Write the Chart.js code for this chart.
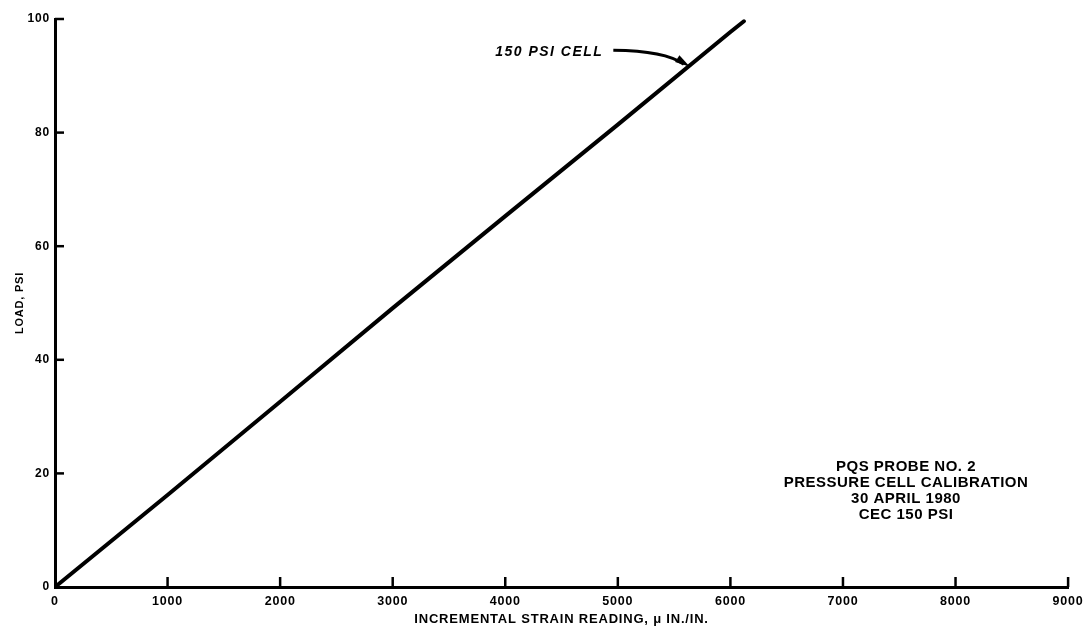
<!DOCTYPE html>
<html>
<head>
<meta charset="utf-8">
<script src="https://cdn.jsdelivr.net/npm/chart.js@4.4.1/dist/chart.umd.min.js"></script>
<style>
  html, body { margin: 0; padding: 0; background: #fff; }
  #wrap { width: 1089px; height: 628px; }
</style>
</head>
<body>
<div id="wrap"><canvas id="calib" width="1089" height="628"></canvas></div>
<script>
// calibration readings
const strainReadings = [0, 1000, 2000, 3000, 4000, 5000, 6000, 6120];
const loadPsi = [0, 16.2, 32.6, 49.1, 65.3, 81.4, 97.7, 99.6];

const xTicks = [0, 1000, 2000, 3000, 4000, 5000, 6000, 7000, 8000, 9000];
const yTicks = [0, 20, 40, 60, 80, 100];

const noteLines = ["PQS PROBE NO. 2", "PRESSURE CELL CALIBRATION", "30 APRIL 1980", "CEC 150 PSI"];
const cellLabel = "150 PSI CELL";

const ink = "#000";
const fontFam = "'Liberation Sans', Arial, sans-serif";

// inward tick marks + annotations
const overlay = {
  id: "overlay",
  beforeDraw(chart) {
    chart.ctx.letterSpacing = "0.8px";
  },
  afterDraw(chart) {
    const ctx = chart.ctx;
    const xs = chart.scales.x, ys = chart.scales.y;
    const area = chart.chartArea;
    ctx.save();
    ctx.strokeStyle = ink;
    ctx.lineWidth = 2.5;
    xTicks.slice(1).forEach(function (v) {
      const px = xs.getPixelForValue(v);
      ctx.beginPath();
      ctx.moveTo(px, area.bottom);
      ctx.lineTo(px, area.bottom - 10);
      ctx.stroke();
    });
    yTicks.slice(1).forEach(function (v) {
      const py = ys.getPixelForValue(v);
      ctx.beginPath();
      ctx.moveTo(area.left, py);
      ctx.lineTo(area.left + 9, py);
      ctx.stroke();
    });

    // cell label with curved arrow to the line
    ctx.fillStyle = ink;
    ctx.font = "italic bold 14px " + fontFam;
    ctx.letterSpacing = "1.5px";
    ctx.textAlign = "left";
    ctx.textBaseline = "middle";
    ctx.fillText(cellLabel, xs.getPixelForValue(3910), ys.getPixelForValue(94.2));

    const sx = xs.getPixelForValue(4960), sy = ys.getPixelForValue(94.5);
    const tx = xs.getPixelForValue(5640), ty = ys.getPixelForValue(91.6);
    const cx = xs.getPixelForValue(5420), cy = ys.getPixelForValue(94.4);
    ctx.lineWidth = 3;
    ctx.beginPath();
    ctx.moveTo(sx, sy);
    ctx.quadraticCurveTo(cx, cy, tx - 6, ty - 2.5);
    ctx.stroke();
    const ang = Math.atan2(ty - cy, tx - cx);
    ctx.beginPath();
    ctx.moveTo(tx, ty);
    ctx.lineTo(tx - 15 * Math.cos(ang) - 4 * Math.sin(ang), ty - 15 * Math.sin(ang) + 4 * Math.cos(ang));
    ctx.lineTo(tx - 15 * Math.cos(ang) + 4 * Math.sin(ang), ty - 15 * Math.sin(ang) - 4 * Math.cos(ang));
    ctx.closePath();
    ctx.fill();

    // note block, lower right
    ctx.font = "bold 15px " + fontFam;
    ctx.letterSpacing = "0.5px";
    ctx.textAlign = "center";
    const nx = xs.getPixelForValue(7560);
    noteLines.forEach(function (t, i) {
      ctx.fillText(t, nx, ys.getPixelForValue(21.2) + i * 16);
    });
    ctx.restore();
  }
};

const ctxCal = document.getElementById("calib").getContext("2d");

new Chart(ctxCal, {
  type: "scatter",
  data: {
    datasets: [{
      data: strainReadings.map(function (s, i) { return { x: s, y: loadPsi[i] }; }),
      showLine: true,
      borderColor: ink,
      borderWidth: 4,
      borderCapStyle: "round",
      borderJoinStyle: "round",
      pointRadius: 0,
      tension: 0
    }]
  },
  options: {
    responsive: false,
    animation: false,
    layout: { padding: { top: 19, right: 16, left: 0, bottom: 0 } },
    plugins: { legend: { display: false }, tooltip: { enabled: false } },
    scales: {
      x: {
        type: "linear",
        min: 0, max: 9000,
        afterBuildTicks: function (s) { s.ticks = xTicks.map(function (v) { return { value: v }; }); },
        afterFit: function (s) { s.height = 41; },
        grid: { drawOnChartArea: false, drawTicks: false },
        border: { color: ink, width: 3 },
        ticks: {
          color: ink, padding: 7, maxRotation: 0,
          font: { family: fontFam, weight: "bold", size: 12.5 },
          callback: function (v) { return String(v); }
        },
        title: {
          display: true,
          text: "INCREMENTAL STRAIN READING, \u03BC IN./IN.",
          color: ink,
          padding: { top: 0, bottom: 1 },
          font: { family: fontFam, weight: "bold", size: 13 }
        }
      },
      y: {
        type: "linear",
        min: 0, max: 100,
        afterBuildTicks: function (s) { s.ticks = yTicks.map(function (v) { return { value: v }; }); },
        afterFit: function (s) { s.width = 55; },
        grid: { drawOnChartArea: false, drawTicks: false },
        border: { color: ink, width: 3 },
        ticks: {
          color: ink, padding: 5,
          font: { family: fontFam, weight: "bold", size: 12 },
          callback: function (v) { return String(v); }
        },
        title: {
          display: true,
          text: "LOAD, PSI",
          color: ink,
          padding: { top: 13, bottom: 0 },
          font: { family: fontFam, weight: "bold", size: 11 }
        }
      }
    }
  },
  plugins: [overlay]
});
</script>
</body>
</html>
